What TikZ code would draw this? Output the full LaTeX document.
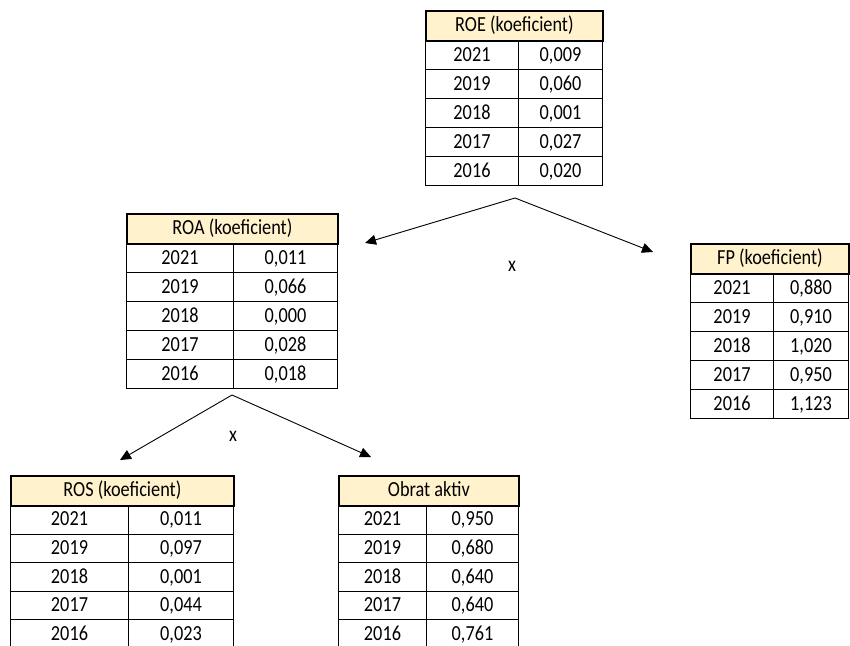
\documentclass[tikz,border=0pt]{standalone}
\usepackage{fontspec}
\setmainfont{Carlito}[FakeStretch=0.85]
\usetikzlibrary{arrows.meta}
\definecolor{hdrfill}{HTML}{FFF2CC}
\tikzset{
  cell/.style={draw=black, line width=1pt, inner sep=0pt, anchor=north west,
    font=\fontsize{21.5}{24}\selectfont, text height=13.5pt, text depth=1.5pt},
  hdr/.style={cell, fill=hdrfill, line width=1.8pt},
  link/.style={-{Triangle[length=11pt,width=10pt]}, line width=0.9pt},
  mul/.style={font=\fontsize{21.5}{24}\selectfont, inner sep=0pt}
}
\newcommand\mktable[8][29]{%
  % [#1 row height], #2 name, #3 left, #4 divider, #5 right, #6 top, #7 header, #8 rows
  \node[hdr, minimum width={(#5-#3)*1pt}, minimum height=30pt] (#2h) at (#3,#6) {#7};
  \foreach \yr/\val [count=\i] in {#8} {
    \node[cell, minimum width={(#4-#3)*1pt}, minimum height=#1pt] (#2y\i) at (#3,{#6+30+(\i-1)*#1}) {\yr};
    \node[cell, minimum width={(#5-#4)*1pt}, minimum height=#1pt] (#2v\i) at (#4,{#6+30+(\i-1)*#1}) {\val};
  }
}
\begin{document}
\begin{tikzpicture}[x=1pt,y=-1pt]
\clip (0,0) rectangle (850,645);
\fill[white] (0,0) rectangle (850,645);

\mktable{roe}{425}{518}{602}{10}{ROE (koeficient)}{2021/{0,009},2019/{0,060},2018/{0,001},2017/{0,027},2016/{0,020}}
\mktable{roa}{126}{233}{337}{213}{ROA (koeficient)}{2021/{0,011},2019/{0,066},2018/{0,000},2017/{0,028},2016/{0,018}}
\mktable{fp}{690}{773}{848}{243}{FP (koeficient)}{2021/{0,880},2019/{0,910},2018/{1,020},2017/{0,950},2016/{1,123}}
\mktable[28.6]{ros}{10}{128}{233}{475}{ROS (koeficient)}{2021/{0,011},2019/{0,097},2018/{0,001},2017/{0,044},2016/{0,023}}
\mktable[28.6]{oa}{338}{426}{518}{475}{Obrat aktiv}{2021/{0,950},2019/{0,680},2018/{0,640},2017/{0,640},2016/{0,761}}

\coordinate (a1) at (515,198);
\coordinate (a1l) at (365,243);
\coordinate (a1r) at (653,252);
\draw[link] (a1) -- (a1l);
\draw[link] (a1) -- (a1r);
\node[mul] (x1) at (512,266) {x};

\coordinate (a2) at (232,395);
\coordinate (a2l) at (120,460);
\coordinate (a2r) at (371,457);
\draw[link] (a2) -- (a2l);
\draw[link] (a2) -- (a2r);
\node[mul] (x2) at (233,436) {x};
\end{tikzpicture}
\end{document}
